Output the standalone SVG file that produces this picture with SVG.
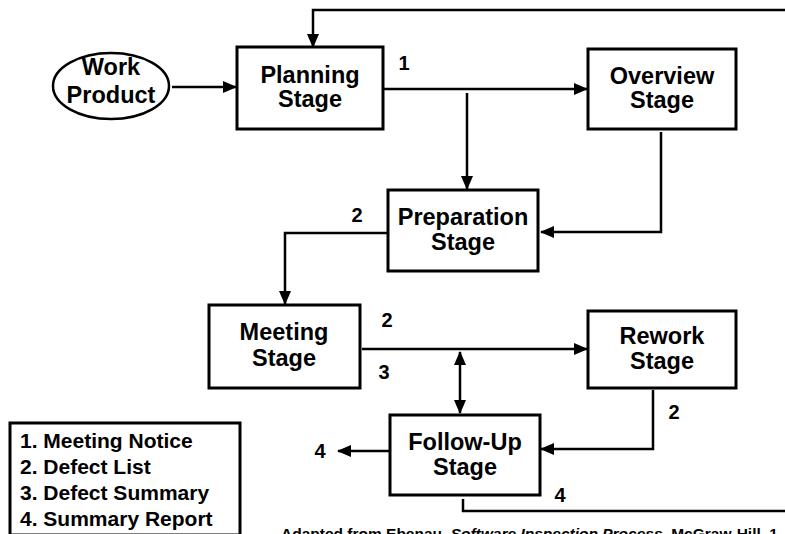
<svg xmlns="http://www.w3.org/2000/svg" width="785" height="534" viewBox="0 0 785 534">
<defs>
<marker id="ah" markerUnits="userSpaceOnUse" markerWidth="14" markerHeight="12" refX="13" refY="6" orient="auto-start-reverse">
<path d="M0,0 L14,6 L0,12 z" fill="#000"/>
</marker>
<style>
.box{fill:#fff;stroke:#000;stroke-width:3}
.lbl{font-family:"Liberation Sans",Arial,sans-serif;font-weight:bold;font-size:23.5px;text-anchor:middle;fill:#000}
.num{font-family:"Liberation Sans",Arial,sans-serif;font-weight:bold;font-size:20px;text-anchor:middle;fill:#000}
.leg{font-family:"Liberation Sans",Arial,sans-serif;font-weight:bold;font-size:21px;fill:#000}
.ln{fill:none;stroke:#000;stroke-width:2.5}
.arr{fill:none;stroke:#000;stroke-width:2.5;marker-end:url(#ah)}
</style>
</defs>
<rect width="785" height="534" fill="#fff"/>
<g id="connectors">
<polyline class="arr" points="785,10 313,10 313,47"/>
<line class="arr" x1="172" y1="87" x2="236" y2="87"/>
<line class="arr" x1="384" y1="89" x2="587" y2="89"/>
<line class="arr" x1="467" y1="93" x2="467" y2="189"/>
<polyline class="arr" points="661,132 661,232 541,232"/>
<polyline class="arr" points="390,233 285,233 285,304"/>
<line class="arr" x1="362" y1="349" x2="587" y2="349"/>
<line class="arr" style="marker-start:url(#ah)" x1="460" y1="352" x2="460" y2="413"/>
<polyline class="arr" points="653,390 653,449 541,449"/>
<line class="arr" x1="389" y1="451" x2="338" y2="451"/>
<line class="ln" x1="463" y1="499" x2="463" y2="512"/>
<line class="ln" x1="462" y1="511" x2="785" y2="511"/>
</g>
<g id="work-product">
<ellipse cx="111" cy="86" rx="58" ry="33" fill="#fff" stroke="#000" stroke-width="2.5"/>
<text class="lbl" x="111" y="75">Work</text>
<text class="lbl" x="111" y="103">Product</text>
</g>
<g id="planning">
<rect class="box" x="237" y="47" width="146" height="82"/>
<text class="lbl" x="310" y="83">Planning</text>
<text class="lbl" x="310" y="107">Stage</text>
</g>
<g id="overview">
<rect class="box" x="588" y="49" width="148" height="80"/>
<text class="lbl" x="662" y="84">Overview</text>
<text class="lbl" x="662" y="108">Stage</text>
</g>
<g id="preparation">
<rect class="box" x="388" y="190" width="150" height="81"/>
<text class="lbl" x="463" y="225">Preparation</text>
<text class="lbl" x="463" y="250">Stage</text>
</g>
<g id="meeting">
<rect class="box" x="209" y="305" width="151" height="83"/>
<text class="lbl" x="284" y="340">Meeting</text>
<text class="lbl" x="284" y="366">Stage</text>
</g>
<g id="rework">
<rect class="box" x="588" y="311" width="148" height="77"/>
<text class="lbl" x="662" y="344">Rework</text>
<text class="lbl" x="662" y="369">Stage</text>
</g>
<g id="followup">
<rect class="box" x="390" y="415" width="150" height="80"/>
<text class="lbl" x="465" y="450">Follow-Up</text>
<text class="lbl" x="465" y="475">Stage</text>
</g>
<g id="labels">
<text class="num" x="404" y="70">1</text>
<text class="num" x="357" y="222">2</text>
<text class="num" x="387" y="327">2</text>
<text class="num" x="384" y="379">3</text>
<text class="num" x="674" y="419">2</text>
<text class="num" x="320" y="458">4</text>
<text class="num" x="560" y="502">4</text>
</g>
<g id="legend">
<rect x="10" y="423" width="230" height="112" fill="#fff" stroke="#000" stroke-width="3"/>
<text class="leg" x="20" y="448">1. Meeting Notice</text>
<text class="leg" x="20" y="474">2. Defect List</text>
<text class="leg" x="20" y="500">3. Defect Summary</text>
<text class="leg" x="20" y="526">4. Summary Report</text>
</g>
<text x="281" y="539" font-family="'Liberation Sans',Arial,sans-serif" font-weight="bold" font-size="15.5">Adapted from Ebenau, <tspan font-style="italic">Software Inspection Process</tspan>, McGraw-Hill, 1</text>
</svg>
